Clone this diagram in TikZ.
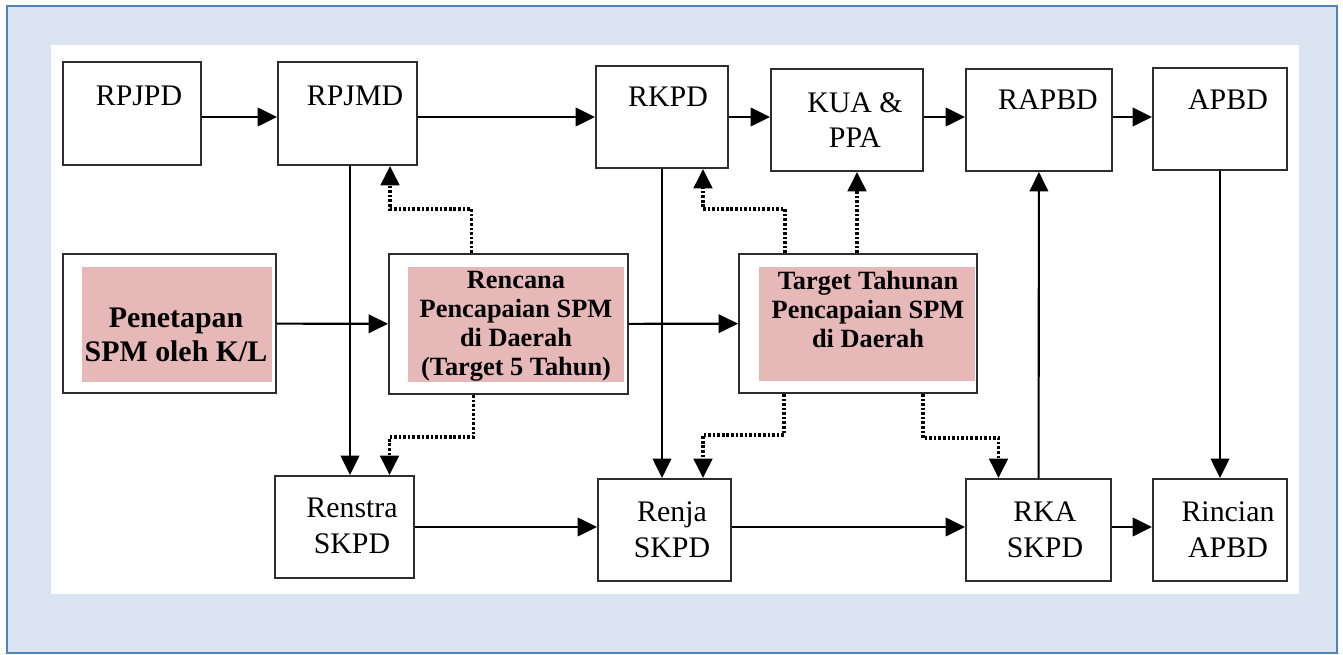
\documentclass[tikz,border=0pt]{standalone}
\usepackage{fontspec}
\setmainfont{Liberation Serif}
\usetikzlibrary{arrows.meta, calc, fit}
\definecolor{pagebg}{RGB}{219,229,241}
\definecolor{frameblue}{RGB}{79,129,189}
\definecolor{spmpink}{RGB}{230,184,183}
\definecolor{boxline}{RGB}{45,45,45}

\begin{document}
\begin{tikzpicture}[x=0.02cm, y=-0.02cm,
    box/.style={draw=boxline, line width=1.1pt, inner sep=0pt, fit={#1}}, % kotak dari dua sudut
    txt/.style={inner sep=0pt, align=center, font=\fontsize{17}{20.4}\selectfont},
    btxt/.style={inner sep=0pt, align=center, font=\bfseries\fontsize{15}{16.5}\selectfont},
    arr/.style={line width=1.2pt, -{Triangle[length=11pt, width=10.5pt]}},
    dotarr/.style={arr, line width=1.8pt, dash pattern=on 1.5pt off 1.1pt}
    ]
\useasboundingbox (0,0) rectangle (1343,655);
\fill[white] (0,0) rectangle (1343,655);
\draw[frameblue, line width=1.2pt, fill=pagebg] (7,6) rectangle (1337,653);
\fill[white] (51,45) rectangle (1299,594);

% latar merah muda
\fill[spmpink] (82,267) rectangle (272,382);
\fill[spmpink] (408,267) rectangle (624,382);
\fill[spmpink] (759,267) rectangle (975,381);

% kotak
\node[box={(63,62) (201,165)}] (rpjpd) {};
\node[box={(278,62) (417,165)}] (rpjmd) {};
\node[box={(596,66) (728,168)}] (rkpd) {};
\node[box={(771,69) (923,171)}] (kua) {};
\node[box={(966,69) (1112,171)}] (rapbd) {};
\node[box={(1153,68) (1287,170)}] (apbd) {};
\node[box={(63,254) (276,393)}] (penet) {};
\node[box={(389,254) (628,394)}] (renc) {};
\node[box={(739,254) (977,393)}] (targ) {};
\node[box={(275,476) (414,578)}] (renstra) {};
\node[box={(598,479) (731,581)}] (renja) {};
\node[box={(966,479) (1111,581)}] (rka) {};
\node[box={(1153,479) (1287,581)}] (rincian) {};

% teks
\node[txt, anchor=base] (rpjpd-t) at (139,106) {RPJPD};
\node[txt, anchor=base] (rpjmd-t) at (355,106) {RPJMD};
\node[txt, anchor=base] (rkpd-t) at (668,107) {RKPD};
\node[txt] (kua-t) at (855,120) {KUA \&\\PPA};
\node[txt, anchor=base] (rapbd-t) at (1048,110) {RAPBD};
\node[txt, anchor=base] (apbd-t) at (1228,110) {APBD};
\node[txt] (renstra-t) at (352,526) {Renstra\\SKPD};
\node[txt] (renja-t) at (672,529.5) {Renja\\SKPD};
\node[txt] (rka-t) at (1045,529.5) {RKA\\SKPD};
\node[txt] (rincian-t) at (1228,529.5) {Rincian\\APBD};
\node[btxt, font=\bfseries\fontsize{17}{19.3}\selectfont] (penet-t) at (176,335) {Penetapan\\SPM oleh K/L};
\node[btxt] (renc-t) at (516,326) {Rencana\\Pencapaian SPM\\di Daerah\\(Target 5 Tahun)};
\node[btxt] (targ-t) at (868,309) {Target Tahunan\\Pencapaian SPM\\di Daerah};

% panah
\coordinate (row1) at (0,117);
\coordinate (row3) at (0,527);
\draw[arr] (rpjpd.east |- row1) -- (rpjmd.west |- row1);
\draw[arr] (rpjmd.east |- row1) -- (rkpd.west |- row1);
\draw[arr] (rkpd.east |- row1) -- (kua.west |- row1);
\draw[arr] (kua.east |- row1) -- (rapbd.west |- row1);
\draw[arr] (rapbd.east |- row1) -- (apbd.west |- row1);
\draw[arr] (penet) -- (renc);
\draw[arr] (renc) -- (targ);
\draw[arr] (renstra.east |- row3) -- (renja.west |- row3);
\draw[arr] (renja.east |- row3) -- (rka.west |- row3);
\draw[arr] (rka.east |- row3) -- (rincian.west |- row3);
\coordinate (v1) at ($(rpjmd.south)+(2.5,0)$);
\draw[arr] (v1) -- (v1 |- renstra.north);
\draw[arr] (rkpd.south) -- (rkpd.south |- renja.north);
\draw[arr] (apbd) -- (rincian);
\draw[arr] (rka) -- (rapbd);

% panah titik-titik
\draw[dotarr] ($(renc.north)+(-37,0)$) -- ++(0,-44) -| ($(rpjmd.south)+(42.5,0)$);
\draw[dotarr] ($(renc.south)+(-35,0)$) -- ++(0,42) -| ($(renstra.north)+(45,0)$);
\draw[dotarr] ($(targ.north)+(-73,0)$) -- ++(0,-44) -| ($(rkpd.south)+(41,0)$);
\coordinate (t1) at ($(targ.north)+(-1,0)$);
\draw[dotarr] (t1) -- (t1 |- kua.south);
\draw[dotarr] ($(targ.south)+(-74,0)$) -- ++(0,41) -| ($(renja.north)+(38.5,0)$);
\draw[dotarr] ($(targ.south)+(65,0)$) -- ++(0,44) -| ($(rka.north)+(-40,0)$);
\end{tikzpicture}
\end{document}
